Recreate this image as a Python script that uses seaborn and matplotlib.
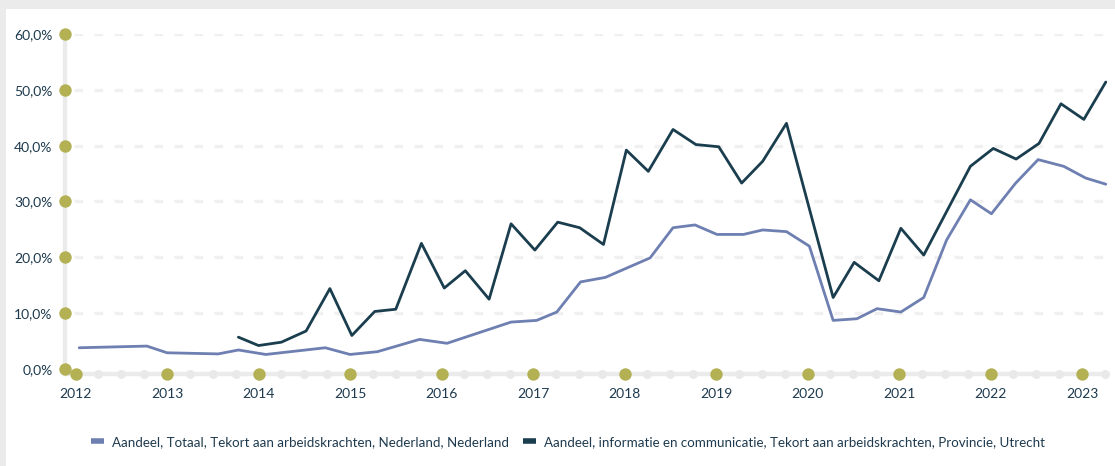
import matplotlib
matplotlib.use("Agg")
import matplotlib.pyplot as plt
import matplotlib.ticker as mticker
from matplotlib.patches import Rectangle
from matplotlib.lines import Line2D
import seaborn as sns
import pandas as pd
import numpy as np

# ---- data (decimal years, percentages) ----
nl_time = [2012.04, 2012.78, 2013.0, 2013.56, 2013.78, 2014.08, 2014.73, 2015.0, 2015.3,
           2015.76, 2016.06, 2016.76, 2017.04, 2017.26, 2017.52, 2017.79, 2018.28, 2018.53,
           2018.77, 2019.01, 2019.30, 2019.51, 2019.77, 2020.02, 2020.28, 2020.54, 2020.76,
           2021.02, 2021.27, 2021.52, 2021.78, 2022.01, 2022.27, 2022.52, 2022.80, 2023.04,
           2023.26]
nl_values = [3.8, 4.1, 2.9, 2.7, 3.4, 2.6, 3.8, 2.6, 3.1,
             5.3, 4.6, 8.4, 8.7, 10.2, 15.6, 16.4, 19.9, 25.3,
             25.8, 24.1, 24.1, 24.9, 24.6, 22.0, 8.7, 9.0, 10.8,
             10.2, 12.8, 23.1, 30.3, 27.8, 33.2, 37.5, 36.3, 34.2,
             33.1]

ut_time = [2013.78, 2014.0, 2014.25, 2014.52, 2014.78, 2015.02, 2015.27, 2015.50, 2015.78,
           2016.03, 2016.26, 2016.52, 2016.76, 2017.02, 2017.27, 2017.51, 2017.77, 2018.02,
           2018.26, 2018.53, 2018.78, 2019.03, 2019.28, 2019.51, 2019.77, 2020.28, 2020.51,
           2020.78, 2021.02, 2021.27, 2021.78, 2022.03, 2022.28, 2022.53, 2022.77, 2023.02,
           2023.26]
ut_values = [5.7, 4.2, 4.8, 6.8, 14.4, 6.0, 10.3, 10.7, 22.5,
             14.5, 17.6, 12.5, 26.0, 21.3, 26.3, 25.3, 22.3, 39.2,
             35.4, 42.9, 40.2, 39.8, 33.3, 37.2, 44.0, 12.8, 19.1,
             15.8, 25.2, 20.4, 36.3, 39.5, 37.6, 40.4, 47.5, 44.7,
             51.4]

series_names = ["Aandeel, Totaal, Tekort aan arbeidskrachten, Nederland, Nederland",
                "Aandeel, informatie en communicatie, Tekort aan arbeidskrachten, Provincie, Utrecht"]
year_ticks = list(range(2012, 2024))
y_ticks = [0, 10, 20, 30, 40, 50, 60]

# ---- styling ----
sns.set_theme(style="white")
plt.rcParams['font.family'] = ['Lato', 'DejaVu Sans']

TEXT = "#1e3a4e"
LIGHT = "#6e7fb1"
NAVY = "#1b3e4f"
GOLD = "#b3b153"
AXISGRAY = "#ebebeb"
GRID = "#f0f0f0"

W, H = 1115, 466
fig = plt.figure(figsize=(W / 100, H / 100), dpi=100)
fig.patch.set_facecolor("#ebebeb")
fig.patches.append(Rectangle((6 / W, 0), 1 - 6 / W, (H - 9) / H, transform=fig.transFigure,
                             facecolor="white", edgecolor="none", zorder=-10))

ax = fig.add_axes([65 / W, (H - 374) / H, (1107 - 65) / W, (374 - 34) / H])
ax.set_zorder(2)
ax.set_facecolor("none")

df = pd.concat([
    pd.DataFrame({"t": nl_time, "v": nl_values, "s": series_names[0]}),
    pd.DataFrame({"t": ut_time, "v": ut_values, "s": series_names[1]}),
])
palette = {series_names[0]: LIGHT, series_names[1]: NAVY}
sns.lineplot(data=df, x="t", y="v", hue="s", palette=palette, linewidth=2.0,
             ax=ax, legend=False, sort=True, zorder=3)

x0, x1 = 2011.885, 2023.273
y0, y1 = -0.9, 60
ax.set_xlim(x0, x1)
ax.set_ylim(y0, y1)

# gridlines
for yv in y_ticks[1:]:
    ax.plot([2011.98, x1], [yv, yv], color=GRID, linewidth=2.4,
            linestyle=(0, (2.6, 3.4)), zorder=1, solid_capstyle="butt")

# spines
for s in ["top", "right"]:
    ax.spines[s].set_visible(False)
for s in ["left", "bottom"]:
    ax.spines[s].set_color(AXISGRAY)
    ax.spines[s].set_linewidth(3.2)
    ax.spines[s].set_zorder(1)

# ticks
ax.set_yticks(y_ticks)
ax.yaxis.set_major_formatter(mticker.FuncFormatter(lambda v, p: f"{v:.1f}%".replace(".", ",")))
ax.set_xticks(year_ticks)
ax.set_xticklabels([str(y) for y in year_ticks])
ax.tick_params(axis="both", length=0, colors=TEXT, labelsize=10)
ax.tick_params(axis="y", pad=9)
ax.tick_params(axis="x", pad=10)
ax.set_xlabel("")
ax.set_ylabel("")

# minor quarter dots on x axis
quarters = [y + q for y in year_ticks for q in (0.25, 0.5, 0.75) if y + q < x1]
ax.scatter(quarters, [y0] * len(quarters), s=42, color="#e9e9e9", zorder=2, clip_on=False,
           linewidths=0)
ax.scatter(year_ticks, [y0] * len(year_ticks), s=80, color=GOLD, zorder=4, clip_on=False,
           linewidths=0)
ax.scatter([x0] * len(y_ticks), y_ticks, s=80, color=GOLD, zorder=4, clip_on=False,
           linewidths=0)

# legend
handles = [Line2D([], [], color=LIGHT, linewidth=4, solid_capstyle="butt"),
           Line2D([], [], color=NAVY, linewidth=4, solid_capstyle="butt")]
fig.legend(handles, series_names, loc="center", bbox_to_anchor=(568 / W, 1 - 442 / H),
           ncol=2, frameon=False, fontsize=9.6, handlelength=1.0, handletextpad=0.6,
           columnspacing=1.0, labelcolor=TEXT)

fig.savefig("out.png", dpi=100, facecolor=fig.get_facecolor())
